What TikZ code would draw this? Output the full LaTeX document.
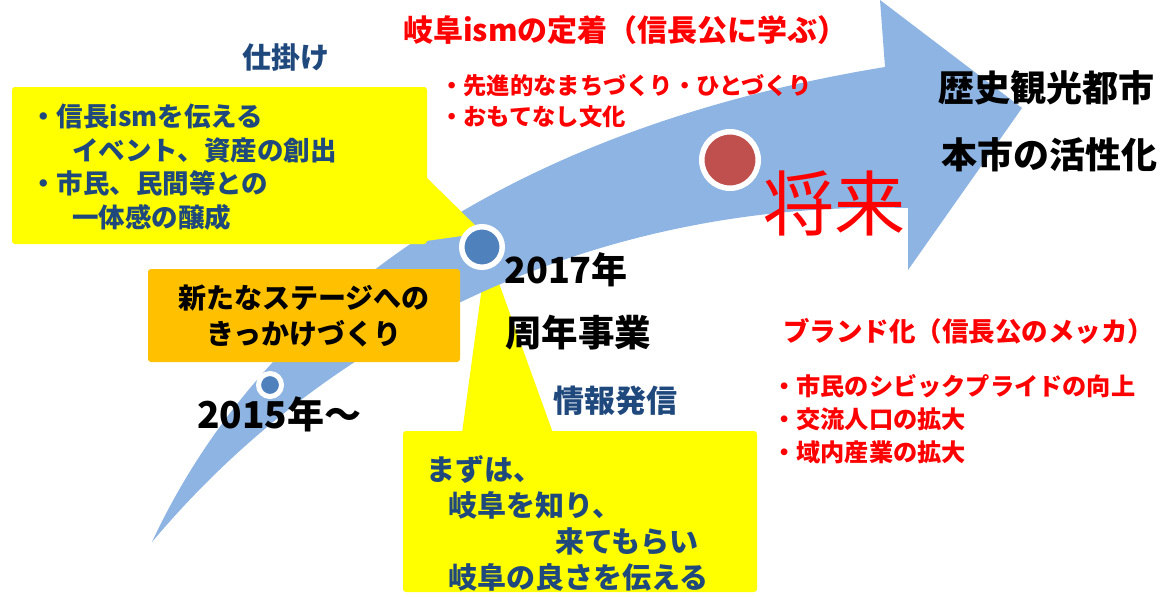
\documentclass[tikz,border=0pt]{standalone}
\usepackage{fontspec}
\newfontfamily\jp{Noto Sans CJK JP}
\definecolor{band}{HTML}{8DB4E2}
\definecolor{navy}{HTML}{1F497D}
\definecolor{dotblue}{HTML}{4F81BD}
\definecolor{dotred}{HTML}{C0504D}
\definecolor{callyel}{HTML}{FFFF00}
\definecolor{orangebox}{HTML}{FFC000}
\begin{document}
\begin{tikzpicture}[x=1pt,y=-1pt,
  sz/.style={font=\jp\bfseries\fontsize{#1}{#1}\selectfont},
  txt/.style={inner sep=0pt, anchor=west},
  navytxt/.style={txt, text=navy},
  redtxt/.style={txt, text=red},
  blacktxt/.style={txt, text=black},
  dot/.style={circle, draw=white, inner sep=0pt},
  callbox/.style={fill=callyel, rounded corners=3pt},
]
\useasboundingbox (0,0) rectangle (1174,597);
\fill[white] (0,0) rectangle (1174,597);

% bottom callout (behind the band)
\fill[callyel] (462,433) -- (487,250) -- (553,433) -- cycle;
\fill[callbox] (403,431) rectangle (757,592);

% the big curved arrow
\fill[band] (152,542) .. controls (260,310) and (500,130) .. (885,67)
  -- (880,0) -- (1022,108) -- (908,270) -- (908,208)
  .. controls (600,200) and (330,330) .. (152,542) -- cycle;

% top-left callout
\fill[callbox] (12,87) rectangle (427,244);
\fill[callyel] (426,177) -- (483,233) -- (426,241) -- cycle;

% orange box
\node[fill=orangebox, rounded corners=3pt, minimum width=312pt, minimum height=93pt, inner sep=0pt] (stage) at (304,315.5) {};
\node[sz=28, inner sep=0pt, align=center, text=black] (stagetxt) at (stage.center) {新たなステージへの\\[8pt]きっかけづくり};

% milestone dots
\node[dot, fill=dotblue, line width=5pt, minimum size=23pt] (d2015) at (270,385) {};
\node[dot, fill=dotblue, line width=5.5pt, minimum size=40.5pt] (d2017) at (482,247) {};
\node[dot, fill=dotred, line width=5.5pt, minimum size=56.5pt] (dfuture) at (730,160) {};

% texts
\node[navytxt, sz=29] (shikake) at (242,57) {仕掛け};
\node[navytxt, sz=26.5] (c1a) at (30,116) {・信長ismを伝える};
\node[navytxt, sz=26.5] (c1b) at (72,150) {イベント、資産の創出};
\node[navytxt, sz=26.5] (c1c) at (30,183) {・市民、民間等との};
\node[navytxt, sz=26.5] (c1d) at (72,217) {一体感の醸成};

\node[redtxt, sz=30] (title1) at (403,30) {岐阜ismの定着（信長公に学ぶ）};
\node[redtxt, sz=23.3] (b1) at (440,86) {・先進的なまちづくり・ひとづくり};
\node[redtxt, sz=23.3] (b2) at (440,117) {・おもてなし文化};

\node[blacktxt, sz=36] (goal1) at (938,88) {歴史観光都市};
\node[blacktxt, sz=36] (goal2) at (941,155) {本市の活性化};
\node[redtxt, font=\jp\fontsize{71}{71}\selectfont] (future) at (763,203) {将来};

\node[blacktxt, sz=36] (y2017) at (504,270) {2017年};
\node[blacktxt, sz=36.5] (anniv) at (505,333) {周年事業};
\node[blacktxt, sz=37] (y2015) at (197,414) {2015年～};
\node[navytxt, sz=31] (info) at (553,401) {情報発信};

\node[navytxt, sz=29] (c3a) at (426,469) {まずは、};
\node[navytxt, sz=29] (c3b) at (448,505) {岐阜を知り、};
\node[navytxt, sz=29] (c3c) at (555,541) {来てもらい};
\node[navytxt, sz=29] (c3d) at (448,577) {岐阜の良さを伝える};

\node[redtxt, sz=26.5] (brand) at (783,331) {ブランド化（信長公のメッカ）};
\node[redtxt, sz=24.2] (r1) at (772,386) {・市民のシビックプライドの向上};
\node[redtxt, sz=24.2] (r2) at (772,419) {・交流人口の拡大};
\node[redtxt, sz=24.2] (r3) at (772,452) {・域内産業の拡大};
\end{tikzpicture}
\end{document}
